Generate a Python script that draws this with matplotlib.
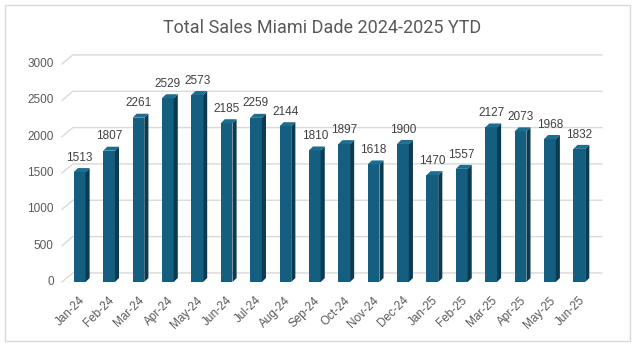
import matplotlib.pyplot as plt
from matplotlib.patches import Polygon, Rectangle
import numpy as np

months = ['Jan-24', 'Feb-24', 'Mar-24', 'Apr-24', 'May-24', 'Jun-24', 'Jul-24', 'Aug-24', 'Sep-24',
          'Oct-24', 'Nov-24', 'Dec-24', 'Jan-25', 'Feb-25', 'Mar-25', 'Apr-25', 'May-25', 'Jun-25']
sales = [1513, 1807, 2261, 2529, 2573, 2185, 2259, 2144, 1810,
         1897, 1618, 1900, 1470, 1557, 2127, 2073, 1968, 1832]
y_ticks = [0, 500, 1000, 1500, 2000, 2500, 3000]

FRONT = '#145e80'
SIDE = '#0b3b51'
TOP = '#1d6d90'
GRID = '#d9d9d9'

fig = plt.figure(figsize=(6.36, 3.49), dpi=100)
fig.patches.append(Rectangle((5 / 636, 8 / 349), 625 / 636, 336 / 349, transform=fig.transFigure,
                             fill=False, edgecolor=GRID, lw=1))

ax = fig.add_axes([62 / 636, (349 - 282) / 349, 532 / 636, 218 / 349])
ax.set_xlim(-0.6, 17.5)
ax.set_ylim(0, 3000)
ax.axis('off')

# back wall gridlines (offset for the 3d depth)
gdx, gdy = 0.37, 125
for v in y_ticks:
    ax.plot([-0.6, -0.6 + gdx, 17.4 + gdx], [v, v + gdy, v + gdy], color=GRID, lw=1,
            clip_on=False, zorder=1)
    ax.text(-0.88, v, str(v), ha='right', va='center', fontsize=8.5, color='#595959',
            family='Liberation Sans')

# bars: front face + side + top
w = 0.4
bdx, bdy = 0.14, 55
x = np.arange(len(sales))
ax.bar(x, sales, width=w, color=FRONT, zorder=3)
for xi, v in zip(x, sales):
    r = xi + w / 2
    l = xi - w / 2
    ax.add_patch(Polygon([(r, 0), (r + bdx, bdy), (r + bdx, v + bdy), (r, v)],
                         closed=True, color=SIDE, zorder=3, lw=0))
    ax.add_patch(Polygon([(l, v), (r, v), (r + bdx, v + bdy), (l + bdx, v + bdy)],
                         closed=True, color=TOP, zorder=3, lw=0))
    ax.text(xi, v + bdy + 60, str(v), ha='center', va='bottom', fontsize=8.5,
            color='#404040', family='Liberation Sans', zorder=4)
    ax.text(xi - 0.02, -170, months[xi], ha='right', va='top',
            rotation=45, rotation_mode='anchor', fontsize=8.5, color='#595959',
            family='Liberation Sans')

fig.text(322 / 636, 1 - 28 / 349, 'Total Sales Miami Dade 2024-2025 YTD', ha='center',
         va='center', fontsize=13, color='#595959', family='Roboto')

fig.savefig('out.png', dpi=100)
